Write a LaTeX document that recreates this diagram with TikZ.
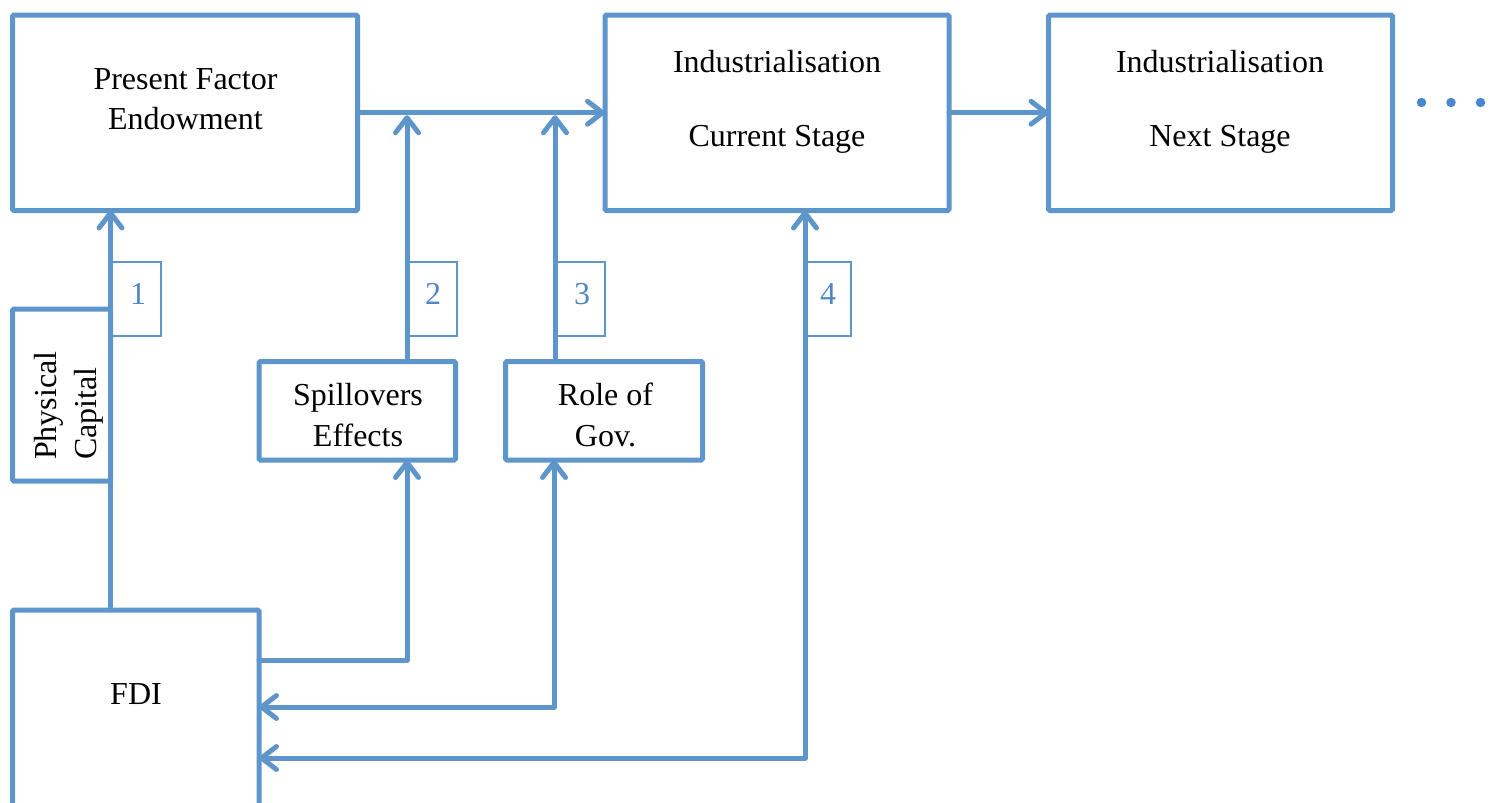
\documentclass[tikz,border=0pt]{standalone}
\usepackage{fontspec}
\setmainfont{Liberation Serif}
\usetikzlibrary{arrows.meta}
\definecolor{ln}{RGB}{94,150,204}
\definecolor{num}{RGB}{79,134,198}
\definecolor{dotc}{RGB}{74,134,208}
\begin{document}
\begin{tikzpicture}[x=1pt,y=-1pt,
  box/.style={draw=ln,line width=5pt,rounded corners=1.5pt,inner sep=0pt,outer sep=0pt},
  tag/.style={draw=ln,line width=1.8pt,inner sep=0pt,outer sep=0pt},
  txt/.style={anchor=base,inner sep=0pt,font=\fontsize{32}{40}\selectfont},
  numtxt/.style={anchor=base,inner sep=0pt,text=num,font=\fontsize{32}{40}\selectfont},
  conn/.style={draw=ln,line width=5pt,line cap=round,line join=round},
  arr/.style={conn,-{Straight Barb[length=15pt,width=23pt,round]}},
  darr/.style={conn,{Straight Barb[length=15pt,width=23pt,round]}-{Straight Barb[length=15pt,width=23pt,round]}},
  dot/.style={circle,fill=dotc,inner sep=0pt,minimum size=9.5pt}]
\useasboundingbox (0,0) rectangle (1494,803);
\clip (0,0) rectangle (1494,803);

% main boxes
\node[box,minimum width=345pt,minimum height=195.5pt] (pfe) at (185,112.75) {};
\node[box,minimum width=344pt,minimum height=195.5pt] (cur) at (777,112.75) {};
\node[box,minimum width=344pt,minimum height=195.5pt] (nxt) at (1220.5,112.75) {};
\node[box,minimum width=98pt,minimum height=172pt] (pc) at (61.5,395) {};
\node[box,minimum width=196.5pt,minimum height=98.5pt] (sp) at (357.25,410.75) {};
\node[box,minimum width=197pt,minimum height=98.5pt] (rg) at (604,410.75) {};
\node[box,minimum width=246.5pt,minimum height=290pt] (fdi) at (135.75,755) {};

% number tags
\node[tag,minimum width=50.5pt,minimum height=74pt] (l1) at (135.75,299) {};
\node[tag,minimum width=50pt,minimum height=74pt] (l2) at (432,299) {};
\node[tag,minimum width=50pt,minimum height=74pt] (l3) at (580,299) {};
\node[tag,minimum width=47pt,minimum height=74pt] (l4) at (827.5,299) {};

% texts
\node[txt] (t1) at (185.5,89) {Present Factor};
\node[txt] (t2) at (185.5,129) {Endowment};
\node[txt] (t3) at (777,72) {Industrialisation};
\node[txt] (t4) at (777,146) {Current Stage};
\node[txt] (t5) at (1220,72) {Industrialisation};
\node[txt] (t6) at (1220,146) {Next Stage};
\node[txt] (t7) at (358,405) {Spillovers};
\node[txt] (t8) at (358,446) {Effects};
\node[txt] (t9) at (605.5,405) {Role of};
\node[txt] (t10) at (605.5,446) {Gov.};
\node[txt] (t11) at (136,704) {FDI};
\node[txt,rotate=90,anchor=base west] (t12) at (56,460) {Physical};
\node[txt,rotate=90,anchor=base west] (t13) at (96,460) {Capital};

\node[numtxt] (n1) at (138,304) {1};
\node[numtxt] (n2) at (433,304) {2};
\node[numtxt] (n3) at (582,304) {3};
\node[numtxt] (n4) at (828,304) {4};

% dots
\node[dot] (d1) at (1421.5,102.5) {};
\node[dot] (d2) at (1451,102.5) {};
\node[dot] (d3) at (1480.5,102.5) {};

% bend points
\coordinate (b2) at (407,660);
\coordinate (b3) at (554,707);
\coordinate (b4) at (805,758);

% connectors
\draw[arr] (pfe.east) -- (cur.west);
\draw[arr] (cur.east) -- (nxt.west);
\draw[arr] (pc.east |- fdi.north) -- (pc.east |- pfe.south);
\draw[arr,shorten >=2.5pt] (l2.west |- sp.north) -- (l2.west |- pfe.east);
\draw[arr,shorten >=2.5pt] (l3.west |- rg.north) -- (l3.west |- pfe.east);
\draw[arr] (b2 -| fdi.east) -- (b2) -- (b2 |- sp.south);
\draw[darr] (b3 -| fdi.east) -- (b3) -- (b3 |- rg.south);
\draw[darr] (b4 -| fdi.east) -- (b4) -- (b4 |- cur.south);
\end{tikzpicture}
\end{document}
